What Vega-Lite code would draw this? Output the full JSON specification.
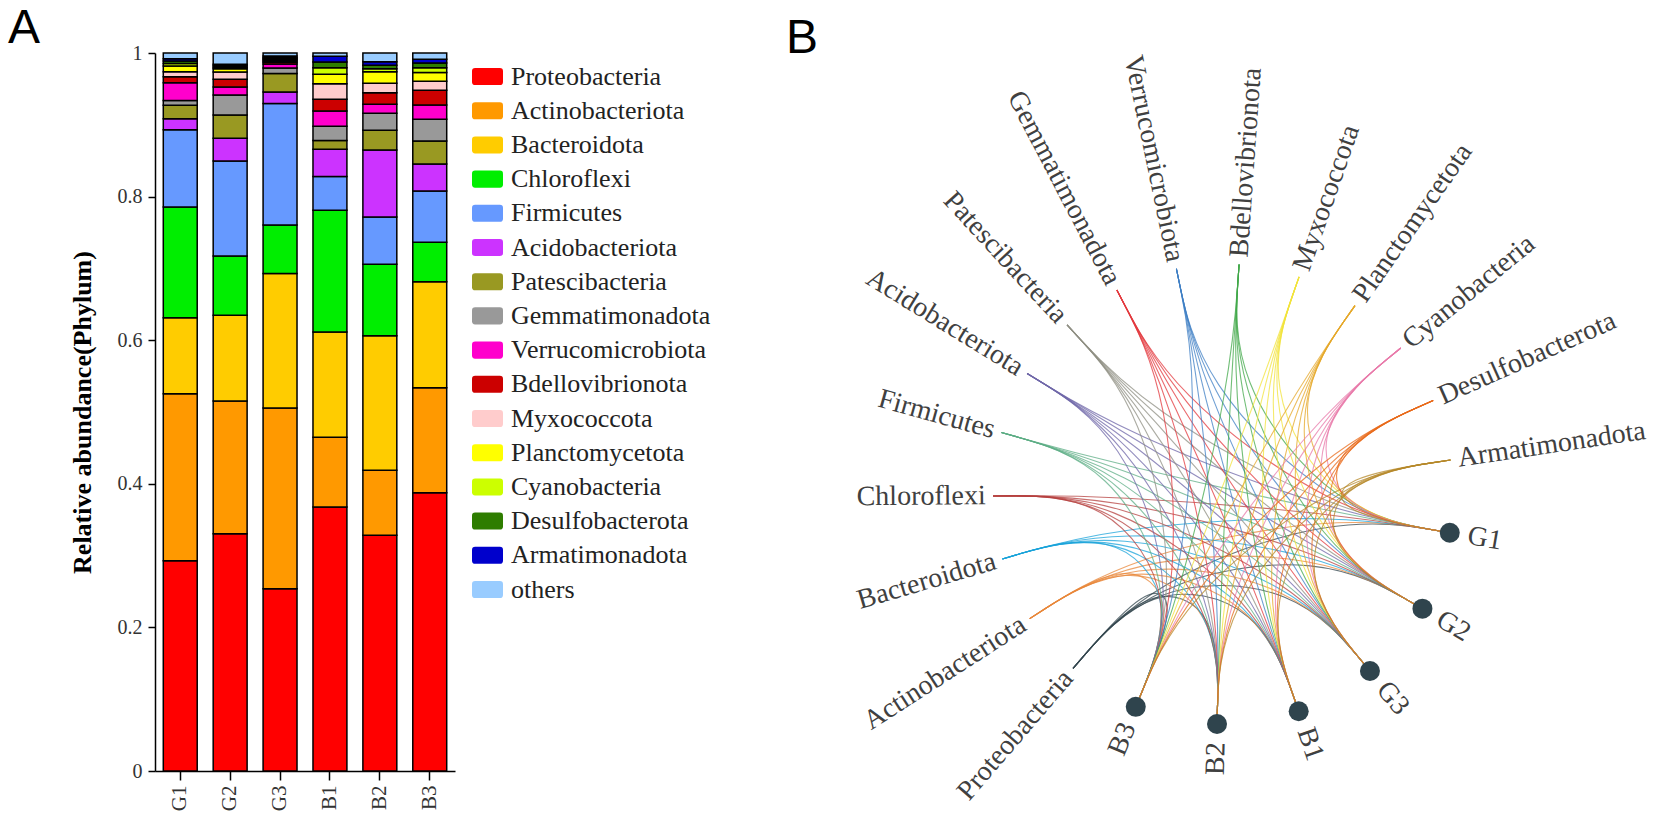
{
  "$schema": "https://vega.github.io/schema/vega-lite/v6.json",
  "padding": {"left": 8, "top": 5, "right": 0, "bottom": 0},
  "spacing": 75,
  "config": {
    "view": {"stroke": null},
    "font": "Liberation Serif"
  },
  "resolve": {"scale": {"color": "independent"}, "legend": {"color": "independent"}},
  "datasets": {
    "abund": [
      {"sample": "G1", "Proteobacteria": 0.293, "Actinobacteriota": 0.2325, "Bacteroidota": 0.1059, "Chloroflexi": 0.1541, "Firmicutes": 0.1077, "Acidobacteriota": 0.0151, "Patescibacteria": 0.0188, "Gemmatimonadota": 0.0069, "Verrucomicrobiota": 0.0247, "Bdellovibrionota": 0.0081, "Myxococcota": 0.0072, "Planctomycetota": 0.0079, "Cyanobacteria": 0.0034, "Desulfobacterota": 0.0034, "Armatimonadota": 0.0034, "others": 0.0079},
      {"sample": "G2", "Proteobacteria": 0.3305, "Actinobacteriota": 0.1848, "Bacteroidota": 0.1194, "Chloroflexi": 0.0826, "Firmicutes": 0.1323, "Acidobacteriota": 0.0316, "Patescibacteria": 0.0324, "Gemmatimonadota": 0.0279, "Verrucomicrobiota": 0.0111, "Bdellovibrionota": 0.0108, "Myxococcota": 0.0101, "Planctomycetota": 0.0047, "Cyanobacteria": 0.0021, "Desulfobacterota": 0.002, "Armatimonadota": 0.002, "others": 0.0157},
      {"sample": "G3", "Proteobacteria": 0.254, "Actinobacteriota": 0.2516, "Bacteroidota": 0.1874, "Chloroflexi": 0.0674, "Firmicutes": 0.1693, "Acidobacteriota": 0.016, "Patescibacteria": 0.0257, "Gemmatimonadota": 0.0077, "Verrucomicrobiota": 0.0056, "Bdellovibrionota": 0.0025, "Myxococcota": 0.0015, "Planctomycetota": 0.002, "Cyanobacteria": 0.0015, "Desulfobacterota": 0.0015, "Armatimonadota": 0.0021, "others": 0.0042},
      {"sample": "B1", "Proteobacteria": 0.3677, "Actinobacteriota": 0.0973, "Bacteroidota": 0.1464, "Chloroflexi": 0.1696, "Firmicutes": 0.047, "Acidobacteriota": 0.038, "Patescibacteria": 0.012, "Gemmatimonadota": 0.02, "Verrucomicrobiota": 0.0212, "Bdellovibrionota": 0.0163, "Myxococcota": 0.0218, "Planctomycetota": 0.013, "Cyanobacteria": 0.0092, "Desulfobacterota": 0.008, "Armatimonadota": 0.0078, "others": 0.0047},
      {"sample": "B2", "Proteobacteria": 0.3283, "Actinobacteriota": 0.0905, "Bacteroidota": 0.1875, "Chloroflexi": 0.0994, "Firmicutes": 0.0659, "Acidobacteriota": 0.0933, "Patescibacteria": 0.0274, "Gemmatimonadota": 0.0237, "Verrucomicrobiota": 0.0126, "Bdellovibrionota": 0.0161, "Myxococcota": 0.0131, "Planctomycetota": 0.0162, "Cyanobacteria": 0.004, "Desulfobacterota": 0.005, "Armatimonadota": 0.0049, "others": 0.0121},
      {"sample": "B3", "Proteobacteria": 0.3876, "Actinobacteriota": 0.1462, "Bacteroidota": 0.1477, "Chloroflexi": 0.0548, "Firmicutes": 0.0715, "Acidobacteriota": 0.0376, "Patescibacteria": 0.032, "Gemmatimonadota": 0.0302, "Verrucomicrobiota": 0.02, "Bdellovibrionota": 0.0204, "Myxococcota": 0.0126, "Planctomycetota": 0.0124, "Cyanobacteria": 0.0065, "Desulfobacterota": 0.0066, "Armatimonadota": 0.0051, "others": 0.0088}
    ],
    "nodes": [
      {"name": "Proteobacteria", "theta": 229.3, "kind": "phylum"},
      {"name": "Actinobacteriota", "theta": 212.8, "kind": "phylum"},
      {"name": "Bacteroidota", "theta": 196.4, "kind": "phylum"},
      {"name": "Chloroflexi", "theta": 180.5, "kind": "phylum"},
      {"name": "Firmicutes", "theta": 164.5, "kind": "phylum"},
      {"name": "Acidobacteriota", "theta": 148.4, "kind": "phylum"},
      {"name": "Patescibacteria", "theta": 132.7, "kind": "phylum"},
      {"name": "Gemmatimonadota", "theta": 117.5, "kind": "phylum"},
      {"name": "Verrucomicrobiota", "theta": 101.7, "kind": "phylum"},
      {"name": "Bdellovibrionota", "theta": 86.0, "kind": "phylum"},
      {"name": "Myxococcota", "theta": 70.7, "kind": "phylum"},
      {"name": "Planctomycetota", "theta": 55.0, "kind": "phylum"},
      {"name": "Cyanobacteria", "theta": 39.4, "kind": "phylum"},
      {"name": "Desulfobacterota", "theta": 24.0, "kind": "phylum"},
      {"name": "Armatimonadota", "theta": 8.5, "kind": "phylum"},
      {"name": "G1", "theta": -9.7, "kind": "sample"},
      {"name": "G2", "theta": -29.9, "kind": "sample"},
      {"name": "G3", "theta": -50.3, "kind": "sample"},
      {"name": "B1", "theta": -70.8, "kind": "sample"},
      {"name": "B2", "theta": -91.5, "kind": "sample"},
      {"name": "B3", "theta": -112.3, "kind": "sample"}
    ],
    "links": [
      {"phylum": "Proteobacteria", "samples": ["G1", "G2", "G3", "B1", "B2", "B3"]},
      {"phylum": "Actinobacteriota", "samples": ["G1", "G2", "G3", "B1", "B2", "B3"]},
      {"phylum": "Bacteroidota", "samples": ["G1", "G2", "G3", "B1", "B2", "B3"]},
      {"phylum": "Chloroflexi", "samples": ["G1", "G2", "G3", "B1", "B2", "B3"]},
      {"phylum": "Firmicutes", "samples": ["G1", "G2", "G3", "B1", "B2", "B3"]},
      {"phylum": "Acidobacteriota", "samples": ["G1", "G2", "G3", "B1", "B2", "B3"]},
      {"phylum": "Patescibacteria", "samples": ["G1", "G2", "G3", "B1", "B2", "B3"]},
      {"phylum": "Gemmatimonadota", "samples": ["G1", "G2", "G3", "B1", "B2", "B3"]},
      {"phylum": "Verrucomicrobiota", "samples": ["G1", "G2", "G3", "B1", "B2", "B3"]},
      {"phylum": "Bdellovibrionota", "samples": ["G1", "G2", "G3", "B1", "B2", "B3"]},
      {"phylum": "Myxococcota", "samples": ["G1", "G2", "G3", "B1", "B2", "B3"]},
      {"phylum": "Planctomycetota", "samples": ["G1", "G2", "G3", "B1", "B2", "B3"]},
      {"phylum": "Cyanobacteria", "samples": ["G1", "G2", "G3", "B1", "B2", "B3"]},
      {"phylum": "Desulfobacterota", "samples": ["G1", "G2", "G3", "B1", "B2", "B3"]},
      {"phylum": "Armatimonadota", "samples": ["G1", "G2", "G3", "B1", "B2", "B3"]}
    ]
  },
  "hconcat": [
    {
      "width": 300,
      "height": 718,
      "title": {"text": "A", "anchor": "start", "frame": "group", "dx": -147, "font": "Liberation Sans", "fontSize": 48, "fontWeight": "normal", "color": "black", "offset": -10},
      "data": {"name": "abund"},
      "transform": [
        {"fold": ["Proteobacteria", "Actinobacteriota", "Bacteroidota", "Chloroflexi", "Firmicutes", "Acidobacteriota", "Patescibacteria", "Gemmatimonadota", "Verrucomicrobiota", "Bdellovibrionota", "Myxococcota", "Planctomycetota", "Cyanobacteria", "Desulfobacterota", "Armatimonadota", "others"], "as": ["phylum", "value"]},
        {"calculate": "indexof(['Proteobacteria','Actinobacteriota','Bacteroidota','Chloroflexi','Firmicutes','Acidobacteriota','Patescibacteria','Gemmatimonadota','Verrucomicrobiota','Bdellovibrionota','Myxococcota','Planctomycetota','Cyanobacteria','Desulfobacterota','Armatimonadota','others'], datum.phylum)", "as": "k"}
      ],
      "mark": {"type": "bar", "stroke": "black", "strokeWidth": 1.5},
      "encoding": {
        "x": {
          "field": "sample", "type": "nominal",
          "sort": ["G1", "G2", "G3", "B1", "B2", "B3"],
          "scale": {"paddingInner": 0.32, "paddingOuter": 0.166},
          "axis": {"title": null, "labelAngle": 270, "labelFont": "Liberation Serif", "labelFontSize": 21, "labelColor": "#333333", "labelPadding": 5, "tickSize": 9, "tickColor": "black", "tickWidth": 1.5, "domainColor": "black", "domainWidth": 1.5}
        },
        "y": {
          "field": "value", "type": "quantitative", "stack": "zero",
          "scale": {"domain": [0, 1], "nice": false},
          "axis": {"title": "Relative abundance(Phylum)", "titleFont": "Liberation Serif", "titleFontSize": 26, "titleFontWeight": "bold", "titleColor": "black", "titlePadding": 22, "values": [0, 0.2, 0.4, 0.6, 0.8, 1], "format": "~g", "labelFont": "Liberation Serif", "labelFontSize": 20, "labelColor": "#333333", "labelPadding": 6, "tickSize": 7, "tickColor": "black", "tickWidth": 1.5, "domainColor": "black", "domainWidth": 1.5, "grid": false}
        },
        "color": {
          "field": "phylum", "type": "nominal",
          "scale": {
            "domain": ["Proteobacteria", "Actinobacteriota", "Bacteroidota", "Chloroflexi", "Firmicutes", "Acidobacteriota", "Patescibacteria", "Gemmatimonadota", "Verrucomicrobiota", "Bdellovibrionota", "Myxococcota", "Planctomycetota", "Cyanobacteria", "Desulfobacterota", "Armatimonadota", "others"],
            "range": ["#FF0000", "#FF9900", "#FFCC00", "#00EE00", "#6699FF", "#CC33FF", "#999922", "#999999", "#FF00CC", "#CC0000", "#FFCCCC", "#FFFF00", "#CCFF00", "#2E7D00", "#0000CC", "#99CCFF"]
          },
          "legend": {
            "title": null, "orient": "none", "legendX": 317, "legendY": 8,
            "symbolType": "M-0.8,-0.55 L0.8,-0.55 Q1,-0.55 1,-0.35 L1,0.35 Q1,0.55 0.8,0.55 L-0.8,0.55 Q-1,0.55 -1,0.35 L-1,-0.35 Q-1,-0.55 -0.8,-0.55 Z",
            "symbolSize": 961, "symbolStrokeWidth": 0, "symbolOpacity": 1,
            "labelFont": "Liberation Serif", "labelFontSize": 26, "labelColor": "#222222", "labelOffset": 8, "labelLimit": 400,
            "rowPadding": 5.2, "padding": 0
          }
        },
        "order": {"field": "k", "type": "quantitative", "sort": "ascending"}
      }
    },
    {
      "width": 854,
      "height": 718,
      "title": {"text": "B", "anchor": "start", "frame": "group", "dx": -12, "font": "Liberation Sans", "fontSize": 48, "fontWeight": "normal", "color": "black", "offset": -10},
      "layer": [
        {
          "data": {"name": "links"},
          "transform": [
            {"flatten": ["samples"], "as": ["sample"]},
            {"lookup": "phylum", "from": {"data": {"name": "nodes"}, "key": "name", "fields": ["theta"]}, "as": ["t1"]},
            {"lookup": "sample", "from": {"data": {"name": "nodes"}, "key": "name", "fields": ["theta"]}, "as": ["t2"]},
            {"calculate": "datum.t1", "as": "ta"},
            {"calculate": "datum.t2", "as": "tb"},
            {"calculate": "datum.phylum + '-' + datum.sample", "as": "edge"},
            {"fold": ["t1", "ta", "tb", "t2"], "as": ["pt", "deg"]},
            {"calculate": "(datum.pt === 't1' || datum.pt === 't2') ? 1 : 0.5", "as": "r"},
            {"calculate": "datum.r * cos(datum.deg * PI / 180)", "as": "px"},
            {"calculate": "datum.r * sin(datum.deg * PI / 180)", "as": "py"},
            {"calculate": "indexof(['t1','ta','tb','t2'], datum.pt)", "as": "o"}
          ],
          "mark": {"type": "line", "interpolate": "basis", "strokeWidth": 1.1, "opacity": 0.75},
          "encoding": {
            "x": {"field": "px", "type": "quantitative", "scale": {"domain": [-1.848, 1.865], "nice": false, "zero": false}, "axis": null},
            "y": {"field": "py", "type": "quantitative", "scale": {"domain": [-1.204, 1.917], "nice": false, "zero": false}, "axis": null},
            "detail": {"field": "edge", "type": "nominal"},
            "color": {
              "field": "phylum", "type": "nominal",
              "scale": {
                "domain": ["Proteobacteria", "Actinobacteriota", "Bacteroidota", "Chloroflexi", "Firmicutes", "Acidobacteriota", "Patescibacteria", "Gemmatimonadota", "Verrucomicrobiota", "Bdellovibrionota", "Myxococcota", "Planctomycetota", "Cyanobacteria", "Desulfobacterota", "Armatimonadota"],
                "range": ["#34474F", "#E8873A", "#1AA3D9", "#B5403F", "#5DAD86", "#6F67A8", "#8F8F83", "#E3383D", "#3F7FC4", "#41A84A", "#F2E33B", "#E6A82A", "#E879A9", "#E86A1A", "#B5882A"]
              },
              "legend": null
            },
            "order": {"field": "o", "type": "quantitative"}
          }
        },
        {
          "data": {"name": "nodes"},
          "transform": [
            {"filter": "datum.kind === 'sample'"},
            {"calculate": "cos(datum.theta * PI / 180)", "as": "px"},
            {"calculate": "sin(datum.theta * PI / 180)", "as": "py"}
          ],
          "mark": {"type": "point", "filled": true, "size": 400, "opacity": 1, "color": "#2F444D"},
          "encoding": {
            "x": {"field": "px", "type": "quantitative"},
            "y": {"field": "py", "type": "quantitative"}
          }
        },
        {
          "data": {"name": "nodes"},
          "transform": [
            {"calculate": "datum.kind === 'phylum' ? 1.032 : 1.08", "as": "rl"},
            {"calculate": "datum.rl * cos(datum.theta * PI / 180)", "as": "px"},
            {"calculate": "datum.rl * sin(datum.theta * PI / 180)", "as": "py"},
            {"filter": "cos(datum.theta * PI / 180) >= 0"},
            {"calculate": "-datum.theta", "as": "ang"}
          ],
          "mark": {"type": "text", "align": "left", "baseline": "middle", "font": "Liberation Serif", "fontSize": 28, "color": "#404040"},
          "encoding": {
            "x": {"field": "px", "type": "quantitative"},
            "y": {"field": "py", "type": "quantitative"},
            "text": {"field": "name"},
            "angle": {"field": "ang", "type": "quantitative", "scale": null}
          }
        },
        {
          "data": {"name": "nodes"},
          "transform": [
            {"calculate": "datum.kind === 'phylum' ? 1.032 : 1.08", "as": "rl"},
            {"calculate": "datum.rl * cos(datum.theta * PI / 180)", "as": "px"},
            {"calculate": "datum.rl * sin(datum.theta * PI / 180)", "as": "py"},
            {"filter": "cos(datum.theta * PI / 180) < 0"},
            {"calculate": "180 - datum.theta", "as": "ang"}
          ],
          "mark": {"type": "text", "align": "right", "baseline": "middle", "font": "Liberation Serif", "fontSize": 28, "color": "#404040"},
          "encoding": {
            "x": {"field": "px", "type": "quantitative"},
            "y": {"field": "py", "type": "quantitative"},
            "text": {"field": "name"},
            "angle": {"field": "ang", "type": "quantitative", "scale": null}
          }
        }
      ]
    }
  ]
}
